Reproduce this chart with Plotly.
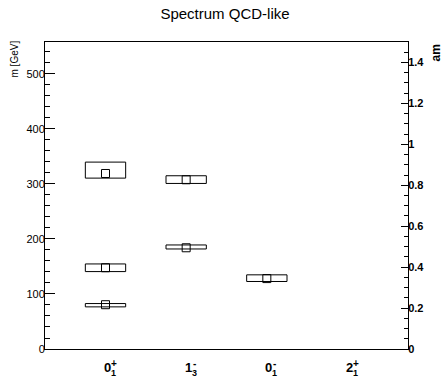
import plotly.graph_objects as go

# ---- data ----
categories = [0, 1, 2, 3]
state_base = ["0", "1", "0", "2"]
state_sup = ["+", "-", "-", "+"]
state_sub = ["1", "3", "1", "1"]

# measured states: category index, central mass, lower and upper edge (GeV)
state_cat = [0, 0, 0, 1, 1, 2]
state_mass = [319.0, 147.7, 80.5, 307.6, 184.0, 128.0]
state_lo = [310.6, 140.7, 76.6, 300.9, 181.8, 122.7]
state_hi = [339.7, 154.6, 82.6, 314.9, 189.1, 134.8]

box_halfwidth = 0.25
mass_range = [0, 558]
am_range = [0, 1.5]

fig = go.Figure()

fig.add_trace(go.Scatter(
    x=state_cat, y=state_mass, mode="markers",
    marker=dict(symbol="square-open", size=8, color="black",
                line=dict(width=1, color="black")),
    showlegend=False, hoverinfo="skip"))

# invisible trace on right axis
fig.add_trace(go.Scatter(x=[0], y=[0], yaxis="y2", mode="markers",
                         marker=dict(opacity=0), showlegend=False,
                         hoverinfo="skip"))

for c, lo, hi in zip(state_cat, state_lo, state_hi):
    fig.add_shape(type="rect", xref="x", yref="y",
                  x0=c - box_halfwidth, x1=c + box_halfwidth, y0=lo, y1=hi,
                  line=dict(color="black", width=1), fillcolor="rgba(0,0,0,0)")

# x-axis labels with stacked super/subscripts
for c, b, sp, sb in zip(categories, state_base, state_sup, state_sub):
    fig.add_annotation(x=c, y=0, xref="x", yref="paper", text="<b>%s</b>" % b,
                       showarrow=False, xanchor="center", yanchor="middle",
                       xshift=2, yshift=-18.5,
                       font=dict(family="Liberation Sans", size=13, color="black"))
    fig.add_annotation(x=c, y=0, xref="x", yref="paper", text="<b>%s</b>" % sp,
                       showarrow=False, xanchor="center", yanchor="middle",
                       xshift=8, yshift=-14.5,
                       font=dict(family="Liberation Sans", size=10, color="black"))
    fig.add_annotation(x=c, y=0, xref="x", yref="paper", text="<b>%s</b>" % sb,
                       showarrow=False, xanchor="center", yanchor="middle",
                       xshift=8, yshift=-24,
                       font=dict(family="Liberation Sans", size=9, color="black"))

fig.add_annotation(x=0, y=1, xref="paper", yref="paper", text="m [GeV]",
                   textangle=-90, showarrow=False, xanchor="center", yanchor="top",
                   xshift=-31, yshift=3,
                   font=dict(family="Liberation Sans", size=10, color="black"))
fig.add_annotation(x=1, y=1, xref="paper", yref="paper", text="<b>am</b>",
                   textangle=-90, showarrow=False, xanchor="center", yanchor="top",
                   xshift=27, yshift=-1,
                   font=dict(family="Liberation Sans", size=12, color="black"))

fig.update_layout(
    width=443, height=382,
    margin=dict(l=45, r=35, t=42, b=33),
    paper_bgcolor="white", plot_bgcolor="white",
    title=dict(text="Spectrum QCD-like", x=225 / 443, xanchor="center",
               y=1 - 14 / 382, yanchor="middle",
               font=dict(family="Liberation Sans", size=15, color="black")),
    xaxis=dict(range=[-0.75, 3.75], showgrid=False, zeroline=False,
               showticklabels=False, ticks="", showline=True, mirror=True,
               linecolor="black", linewidth=1),
    yaxis=dict(range=mass_range, showgrid=False, zeroline=False,
               tickvals=[0, 100, 200, 300, 400, 500], ticks="inside",
               ticklen=10, tickcolor="black", showline=True, linecolor="black",
               linewidth=1, ticklabelstandoff=-3,
               minor=dict(dtick=20, ticks="inside", ticklen=5,
                          tickcolor="black"),
               tickfont=dict(family="Liberation Sans", size=11, color="black")),
    yaxis2=dict(range=am_range, overlaying="y", side="right", showgrid=False,
                zeroline=False, tickvals=[0, 0.2, 0.4, 0.6, 0.8, 1.0, 1.2, 1.4],
                ticktext=["0", "0.2", "0.4", "0.6", "0.8", "1", "1.2", "1.4"],
                ticks="inside", ticklen=7, tickcolor="black", showline=True,
                linecolor="black", linewidth=1, ticklabelstandoff=-3,
                minor=dict(dtick=0.05, ticks="inside", ticklen=4,
                           tickcolor="black"),
                tickfont=dict(family="Liberation Sans", size=11, color="black",
                              weight="bold")),
)

fig.write_html("out.html")
